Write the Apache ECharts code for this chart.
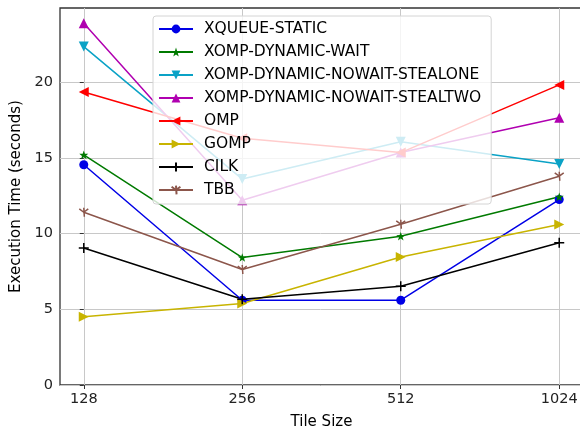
<!DOCTYPE html>
<html>
<head>
<meta charset="utf-8">
<script src="https://cdn.jsdelivr.net/npm/echarts@6/dist/echarts.min.js"></script>
<style>
  html, body { margin: 0; padding: 0; background: #fff; }
  #main { width: 580px; height: 431px; }
</style>
</head>
<body>
<div id="main"></div>
<script>
// tile sizes on the x axis (evenly spaced, log2)
var tileSizes = ['128', '256', '512', '1024'];

var xqueueStatic = [14.55, 5.6, 5.6, 12.25];
var xompWait = [15.2, 8.42, 9.83, 12.43];
var xompStealOne = [22.35, 13.6, 16.06, 14.59];
var xompStealTwo = [23.9, 12.2, 15.35, 17.65];
var omp = [19.35, 16.3, 15.35, 19.82];
var gomp = [4.5, 5.38, 8.46, 10.6];
var cilk = [9.05, 5.66, 6.52, 9.39];
var tbb = [11.41, 7.63, 10.62, 13.79];

var yTicks = [0, 5, 10, 15, 20];

var FONT = 'DejaVu Sans';
var plus = 'path://M0,-5L0,5M-5,0L5,0';
var tri = 'path://M0,-4L0.5,4M0,0L-4,-3M0,0L4,-3';
var star = 'path://M0,-10L2.35,-3.24L9.51,-3.09L3.8,1.24L5.88,8.09L0,4L-5.88,8.09L-3.8,1.24L-9.51,-3.09L-2.35,-3.24Z';

function toPts(arr) {
    return arr.map(function (v, i) { return [i, v]; });
}

function mk(name, values, color, symbol, rotate, size, strokeOnly) {
    var s = {
        name: name,
        type: 'line',
        data: toPts(values),
        symbol: symbol,
        symbolSize: size,
        symbolRotate: rotate,
        symbolKeepAspect: true,
        showAllSymbol: true,
        lineStyle: {color: color, width: 1.5},
        itemStyle: {color: color, opacity: 1},
        emphasis: {disabled: true}
    };
    if (strokeOnly) {
        s.itemStyle = {color: 'none', borderColor: color, borderWidth: 1.5, opacity: 1};
    }
    return s;
}

var myChart = echarts.init(document.getElementById('main'), null, {renderer: 'canvas'});
myChart.setOption({
    animation: false,
    textStyle: {fontFamily: FONT},
    grid: {
        left: 60, top: 8, right: -3, bottom: 46,
        outerBoundsMode: 'none',
        containLabel: false,
        show: true, borderColor: '#333', borderWidth: 1.3
    },
    legend: {
        orient: 'vertical',
        left: 153, top: 16,
        width: 337,
        padding: [5, 10, 6, 5],
        itemWidth: 34, itemHeight: 11, itemGap: 7,
        backgroundColor: 'rgba(255,255,255,0.8)',
        borderColor: '#d4d4d4', borderWidth: 1, borderRadius: 3,
        textStyle: {fontFamily: FONT, fontSize: 15.5, color: '#000', padding: [0, 0, 0, 6]},
        data: ['XQUEUE-STATIC', 'XOMP-DYNAMIC-WAIT', 'XOMP-DYNAMIC-NOWAIT-STEALONE',
               'XOMP-DYNAMIC-NOWAIT-STEALTWO', 'OMP', 'GOMP', 'CILK', 'TBB']
    },
    xAxis: {
        type: 'value',
        min: -0.15, max: 3.15,
        name: 'Tile Size',
        nameLocation: 'middle',
        nameGap: 30,
        nameTextStyle: {fontFamily: FONT, fontSize: 15, color: '#000'},
        axisLine: {show: false},
        axisTick: {show: true, length: 4, lineStyle: {color: '#333'}, customValues: [0, 1, 2, 3]},
        axisLabel: {
            customValues: [0, 1, 2, 3],
            fontFamily: FONT, fontSize: 14.5, color: '#222', margin: 7,
            formatter: function (v) { return tileSizes[Math.round(v)]; }
        },
        splitLine: {show: true, lineStyle: {color: '#c8c8c8', width: 1}}
    },
    yAxis: {
        type: 'value',
        min: 0, max: 24.9, interval: 5,
        name: 'Execution Time (seconds)',
        nameLocation: 'middle',
        nameGap: 36,
        nameTextStyle: {fontFamily: FONT, fontSize: 15, color: '#000'},
        axisLine: {show: false},
        axisTick: {show: true, length: 4, lineStyle: {color: '#333'}, customValues: yTicks},
        axisLabel: {
            customValues: yTicks,
            fontFamily: FONT, fontSize: 14.5, color: '#222', margin: 7
        },
        splitLine: {show: true, lineStyle: {color: '#c8c8c8', width: 1}}
    },
    series: [
        mk('XQUEUE-STATIC', xqueueStatic, '#0000e6', 'circle', 0, 9),
        mk('XOMP-DYNAMIC-WAIT', xompWait, '#007a00', star, 0, 9),
        mk('XOMP-DYNAMIC-NOWAIT-STEALONE', xompStealOne, '#0aa2c6', 'triangle', 180, 10),
        mk('XOMP-DYNAMIC-NOWAIT-STEALTWO', xompStealTwo, '#b000b0', 'triangle', 0, 10),
        mk('OMP', omp, '#ff0000', 'triangle', 90, 10),
        mk('GOMP', gomp, '#c8b400', 'triangle', -90, 10),
        mk('CILK', cilk, '#000000', plus, 0, 10, true),
        mk('TBB', tbb, '#8c564b', tri, 0, 9, true)
    ]
});
</script>
</body>
</html>
